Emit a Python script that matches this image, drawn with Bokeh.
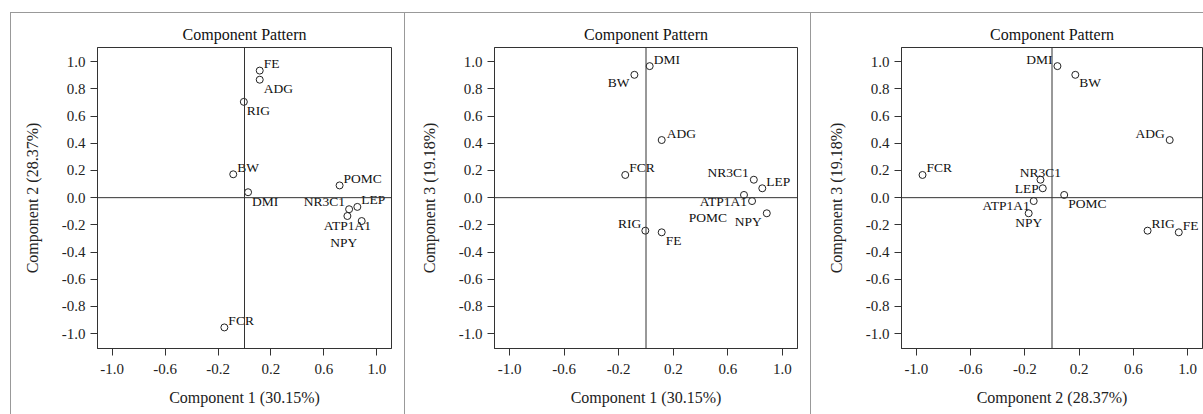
from bokeh.plotting import figure
from bokeh.models import ColumnDataSource, Span, FixedTicker, Div, Spacer, NumeralTickFormatter
from bokeh.layouts import row, column
from bokeh.core.properties import value, field
from bokeh.embed import file_html
from bokeh.resources import INLINE

# ---- data ----
variables = ["FE", "ADG", "RIG", "BW", "DMI", "POMC", "LEP", "NR3C1", "ATP1A1", "NPY", "FCR"]
comp1 = [0.115, 0.115, -0.005, -0.085, 0.027, 0.718, 0.852, 0.790, 0.777, 0.885, -0.152]
comp2 = [0.935, 0.868, 0.705, 0.172, 0.040, 0.090, -0.068, -0.085, -0.135, -0.172, -0.955]
comp3 = [-0.255, 0.424, -0.243, 0.904, 0.968, 0.020, 0.069, 0.132, -0.025, -0.115, 0.167]

x_ticks = [-1.0, -0.6, -0.2, 0.2, 0.6, 1.0]
y_ticks = [-1.0, -0.8, -0.6, -0.4, -0.2, 0.0, 0.2, 0.4, 0.6, 0.8, 1.0]

title_text = "Component Pattern"
label_c1 = "Component 1 (30.15%)"
label_c2 = "Component 2 (28.37%)"
label_c3 = "Component 3 (19.18%)"

# ---- label placement (align, dx px, dy px) ----
off1 = {"FE": ("left", 4, -7), "ADG": ("left", 4, 9), "RIG": ("left", 3, 9), "BW": ("left", 4, -7),
        "DMI": ("left", 4, 9), "POMC": ("left", 4, -7), "LEP": ("left", 4, -7),
        "NR3C1": ("right", -4, -8), "ATP1A1": ("center", 0, 9), "NPY": ("center", -18, 21),
        "FCR": ("left", 4, -7)}
off2 = {"DMI": ("left", 4, -7), "BW": ("right", -5, 8), "ADG": ("left", 5, -7), "FCR": ("left", 4, -7),
        "NR3C1": ("right", -5, -7), "LEP": ("left", 4, -7), "POMC": ("right", -17, 23),
        "ATP1A1": ("right", -5, 0), "NPY": ("right", -5, 8), "RIG": ("right", -4, -7),
        "FE": ("left", 4, 8)}
off3 = {"DMI": ("right", -5, -7), "BW": ("left", 4, 8), "ADG": ("right", -5, -7), "FCR": ("left", 4, -7),
        "NR3C1": ("center", 0, -7), "LEP": ("right", -4, 0), "POMC": ("left", 4, 9),
        "ATP1A1": ("right", -4, 4), "NPY": ("center", 0, 9), "RIG": ("left", 4, -7),
        "FE": ("left", 4, -7)}

SERIF = "Liberation Serif"
DARK = "#333333"


def make_panel(xv, yv, xlabel, ylabel, offs, width, bl, br):
    p = figure(width=width, height=401, x_range=(-1.11, 1.11), y_range=(-1.11, 1.105),
               output_backend="svg", toolbar_location=None,
               min_border_left=bl, min_border_right=br, min_border_top=34, min_border_bottom=66,
               title=title_text, margin=0)
    p.title.align = "center"
    p.title.text_font = SERIF
    p.title.text_font_size = "16px"
    p.title.text_font_style = "normal"
    p.title.text_color = "#111111"
    p.title.standoff = 9
    p.grid.visible = False
    p.outline_line_color = DARK
    p.outline_line_alpha = 1.0
    p.outline_line_width = 1
    p.background_fill_color = "white"
    p.border_fill_color = "white"

    for ax in (p.xaxis[0], p.yaxis[0]):
        ax.axis_line_color = DARK
        ax.major_tick_line_color = DARK
        ax.major_tick_in = 0
        ax.major_tick_out = 7
        ax.minor_tick_line_color = None
        ax.major_label_text_font = SERIF
        ax.major_label_text_font_size = "15px"
        ax.major_label_text_color = "#222222"
        ax.axis_label_text_font = SERIF
        ax.axis_label_text_font_size = "16px"
        ax.axis_label_text_font_style = "normal"
        ax.axis_label_text_color = "#222222"
        ax.formatter = NumeralTickFormatter(format="0.0")
    p.xaxis.ticker = FixedTicker(ticks=x_ticks)
    p.yaxis.ticker = FixedTicker(ticks=y_ticks)
    p.xaxis.axis_label = xlabel
    p.yaxis.axis_label = ylabel
    p.xaxis.major_label_standoff = 8
    p.yaxis.major_label_standoff = 5
    p.xaxis.axis_label_standoff = 12
    p.yaxis.axis_label_standoff = 18

    p.add_layout(Span(location=0, dimension="height", line_color=DARK, line_width=1))
    p.add_layout(Span(location=0, dimension="width", line_color=DARK, line_width=1))

    src = ColumnDataSource(dict(
        x=xv, y=yv, name=variables,
        align=[offs[v][0] for v in variables],
        dx=[offs[v][1] for v in variables],
        dy=[offs[v][2] for v in variables],
    ))
    p.scatter("x", "y", source=src, marker="circle", size=7, fill_color=None,
              line_color="#222222", line_width=1)
    p.text("x", "y", text="name", source=src, x_offset="dx", y_offset="dy",
           text_align=field("align"), text_baseline="middle",
           text_font=value(SERIF), text_font_size=value("13.5px"), text_color="#111111")
    return p


p1 = make_panel(comp1, comp2, label_c1, label_c2, off1, 393, 86, 13)
p2 = make_panel(comp1, comp3, label_c1, label_c3, off2, 405, 89, 13)
p3 = make_panel(comp2, comp3, label_c2, label_c3, off3, 392, 90, 1)

LINE = "#999999"


def vline():
    return Div(width=1, height=401, margin=0, styles={"background-color": LINE})


top = row(Spacer(width=10, height=1, margin=0),
          Div(width=1193, height=1, margin=0, styles={"background-color": LINE}),
          margin=0, spacing=0)
body = row(Spacer(width=10, height=401, margin=0), vline(), p1, vline(), p2, vline(), p3,
           margin=0, spacing=0)
layout = column(Spacer(width=1203, height=12, margin=0), top, body, margin=0, spacing=0)

open("out.html", "w").write(file_html(layout, INLINE))
